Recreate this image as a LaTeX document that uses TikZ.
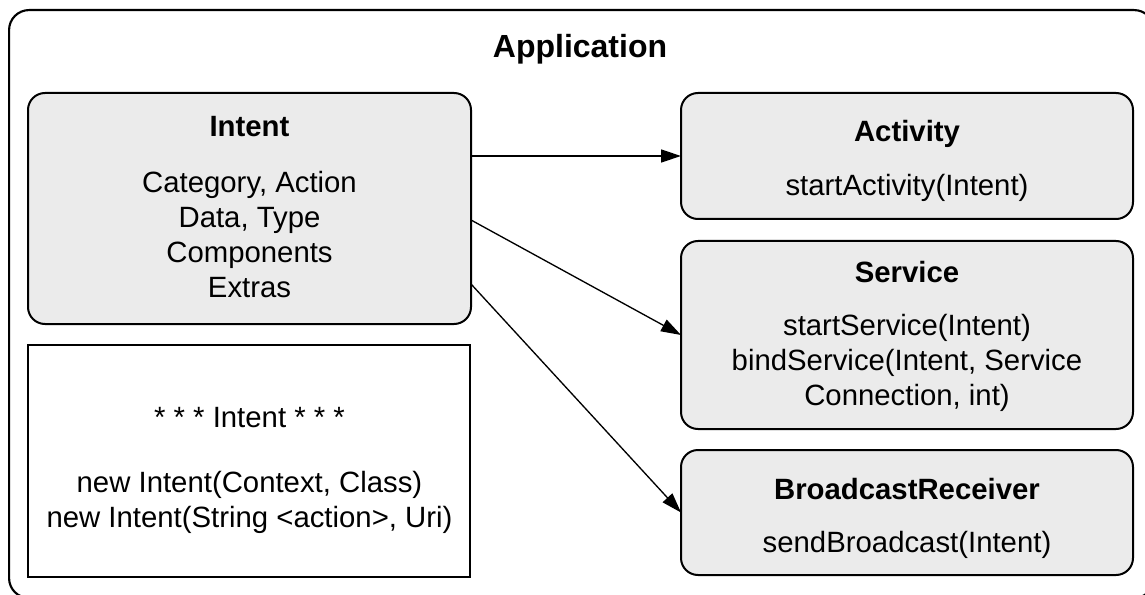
\documentclass[tikz,border=0pt]{standalone}
\usepackage{fontspec}
\setmainfont{Liberation Sans}
\usetikzlibrary{arrows.meta,calc}
\definecolor{boxfill}{RGB}{235,235,235}
\begin{document}
\begin{tikzpicture}[x=0.75pt,y=-0.75pt,
  frame/.style={draw=black, line width=1.6pt, rounded corners=15pt},
  card/.style={draw=black, line width=1.5pt, fill=boxfill, rounded corners=12.75pt, inner sep=0pt, outer sep=0pt},
  plainbox/.style={draw=black, line width=1.5pt, fill=white, inner sep=0pt, outer sep=0pt},
  size/.style 2 args={minimum width=#1*0.75pt, minimum height=#2*0.75pt},
  heading/.style={font=\fontsize{22}{26}\selectfont\bfseries, inner sep=0pt, anchor=base},
  body/.style={font=\fontsize{22}{26.25}\selectfont, align=center, inner sep=0pt, anchor=base},
  arr/.style={line width=1pt, -{Triangle[length=15pt,width=9.75pt]}}]

% page area
\useasboundingbox (0,0) rectangle (1145,595);
\clip (0,0) rectangle (1145,595);

% application frame
\node[frame, size={1145}{588}, anchor=north west, inner sep=0pt] (appframe) at (8,9) {};
\node[heading, font=\fontsize{24}{28}\selectfont\bfseries] (apptitle) at (580,58) {Application};

% left column
\node[card, size={443}{231}, anchor=north west] (intent) at (28,93) {};
\node[plainbox, size={442}{232}, anchor=north west] (ctor) at (28,345) {};

% right column
\node[card, size={452}{126}, anchor=north west] (act) at (681,93) {};
\node[card, size={452}{188}, anchor=north west] (service) at (681,241) {};
\node[card, size={452}{125}, anchor=north west] (recv) at (681,450) {};

% connectors
\coordinate (s2) at ($(intent.north east)+(0,127)$);
\coordinate (s3) at ($(intent.north east)+(0,191)$);
\draw[arr] (intent.east |- act.west) -- (act.west);
\draw[arr] (s2) -- (service.west);
\draw[arr] (s3) -- (recv.west);

% texts (multi-line blocks sit on the baseline of their last line)
\node[heading] (intentTitle) at (249.5,137) {Intent};
\node[body] (intentBody) at (249.5,297) {Category, Action\\Data, Type\\Components\\Extras};

\node[body] (ctorStars) at (249.5,427) {* * * Intent * * *};
\node[body] (ctorBody) at (249.5,527) {new Intent(Context, Class)\\new Intent(String <action>, Uri)};

\node[heading] (actTitle) at (907,142) {Activity};
\node[body] (actBody) at (907,196) {startActivity(Intent)};

\node[heading] (serviceTitle) at (907,282) {Service};
\node[body] (serviceBody) at (907,405) {startService(Intent)\\bindService(Intent, Service\\Connection, int)};

\node[heading] (recvTitle) at (907,499) {BroadcastReceiver};
\node[body] (recvBody) at (907,552) {sendBroadcast(Intent)};
\end{tikzpicture}
\end{document}
